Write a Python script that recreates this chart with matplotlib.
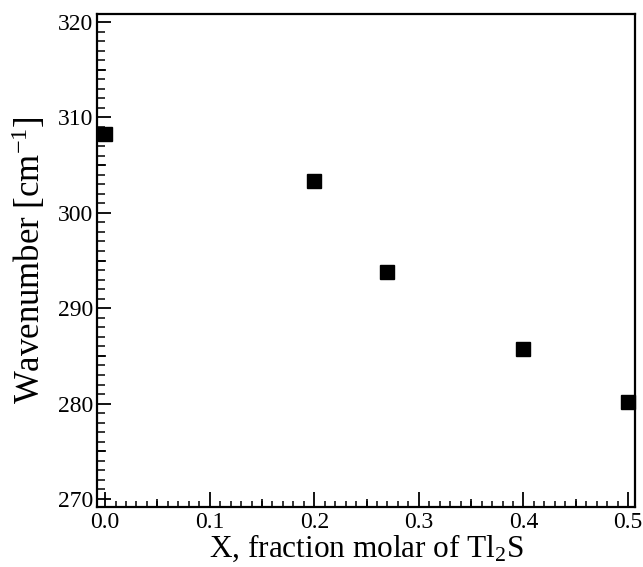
import matplotlib
matplotlib.use("Agg")
import matplotlib.pyplot as plt
import matplotlib.transforms as mtransforms
from matplotlib.ticker import MultipleLocator

plt.rcParams['font.family'] = ['Liberation Serif', 'DejaVu Serif']
plt.rcParams['mathtext.fontset'] = 'custom'
plt.rcParams['mathtext.rm'] = 'Liberation Serif'
plt.rcParams['mathtext.it'] = 'Liberation Serif:italic'

x_fraction = [0.0, 0.2, 0.27, 0.4, 0.5]
wavenumber = [308.3, 303.3, 293.8, 285.7, 280.2]
x_ticks = [0.0, 0.1, 0.2, 0.3, 0.4, 0.5]
y_ticks = [270, 280, 290, 300, 310, 320]
x_mid_ticks = [0.05, 0.15, 0.25, 0.35, 0.45]
y_mid_ticks = [275, 285, 295, 305, 315]

fig = plt.figure(figsize=(6.43, 5.67), dpi=100)
ax = fig.add_axes([0.1509, 0.1058, 0.8367, 0.8695])

ax.plot(x_fraction, wavenumber, linestyle='none', marker='s', markersize=10,
        color='black', clip_on=False, zorder=5)

ax.set_xlim(-0.0077, 0.5067)
ax.set_ylim(269.16, 320.84)
ax.set_xticks(x_ticks)
ax.set_xticklabels([f"{v:.1f}" for v in x_ticks])
ax.set_yticks(y_ticks)
ax.set_yticklabels([str(v) for v in y_ticks])
ax.xaxis.set_minor_locator(MultipleLocator(0.01))
ax.yaxis.set_minor_locator(MultipleLocator(1))

ax.tick_params(axis='x', which='major', direction='in', length=11, width=1.3,
               labelsize=17, pad=3.5, top=False)
ax.tick_params(axis='x', which='minor', direction='in', length=4.5, width=1.1, top=False)
ax.tick_params(axis='y', which='major', direction='in', length=10, width=1.3,
               labelsize=17, pad=3, right=False)
ax.tick_params(axis='y', which='minor', direction='in', length=6, width=1.1, right=False)

# medium-length ticks (pixel lengths converted to axes fraction)
fig_w_px, fig_h_px = 643, 567
ax_w_px = 0.8367 * fig_w_px
ax_h_px = 0.8695 * fig_h_px
tx = mtransforms.blended_transform_factory(ax.transData, ax.transAxes)
for xv in x_mid_ticks:
    ax.plot([xv, xv], [0, 8 / ax_h_px], transform=tx, color='black', lw=1.2,
            clip_on=False, solid_capstyle='butt')
ty = mtransforms.blended_transform_factory(ax.transAxes, ax.transData)
for yv in y_mid_ticks:
    ax.plot([0, 9 / ax_w_px], [yv, yv], transform=ty, color='black', lw=1.2,
            clip_on=False, solid_capstyle='butt')

for s in ax.spines.values():
    s.set_linewidth(1.6)

ax.set_xlabel("X, fraction molar of Tl$_2$S", fontsize=22.5, labelpad=0)
ax.set_ylabel("Wavenumber [cm$^{-1}$]", fontsize=25, labelpad=7)

fig.savefig("out.png", dpi=100)
